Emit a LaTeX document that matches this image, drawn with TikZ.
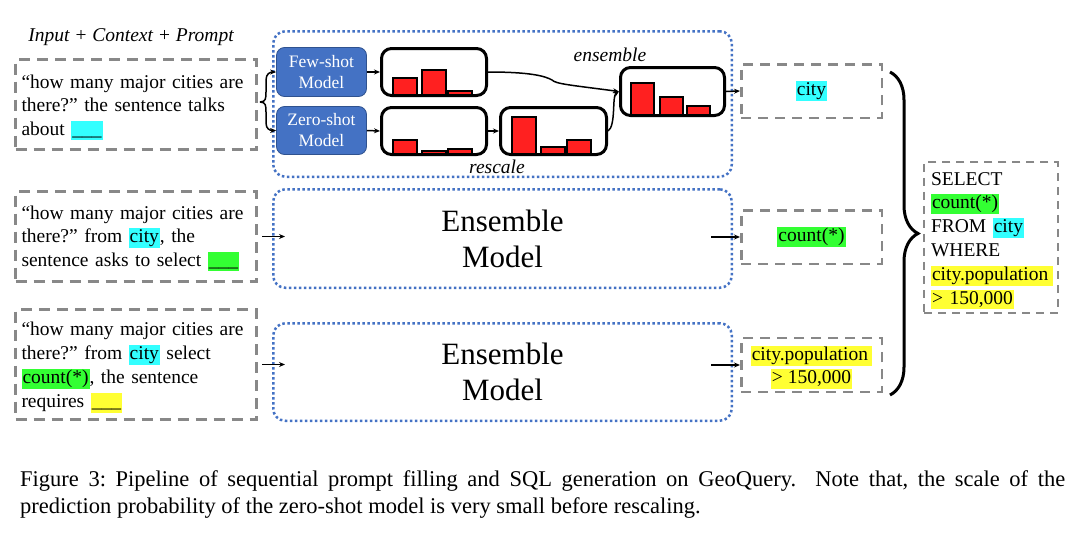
\documentclass[tikz,border=0pt]{standalone}
\usepackage{fontspec}
\setmainfont{Liberation Serif}
\usetikzlibrary{arrows.meta,decorations.pathreplacing,calc}
\frenchspacing
\definecolor{dgray}{RGB}{136,136,136}
\definecolor{dblue}{RGB}{68,114,196}
\definecolor{mblue}{RGB}{47,82,143}
\definecolor{hcyan}{RGB}{51,255,255}
\definecolor{hgreen}{RGB}{51,255,51}
\definecolor{hyellow}{RGB}{255,255,51}
\definecolor{barred}{RGB}{255,32,32}
\newcommand{\hlt}[2]{{\setlength{\fboxsep}{1pt}\colorbox{#1}{\vphantom{Ay(}#2}}}
\newcommand{\tstrut}{\rule{0pt}{19.5pt}}
\begin{document}
\begin{tikzpicture}[x=1pt,y=-1pt,
  txt/.style={font=\fontsize{19.5}{23.5}\selectfont},
  inbox/.style={txt, draw=dgray, line width=3pt, dash pattern=on 11pt off 7pt,
    minimum width=241pt, text width=229pt, inner xsep=6pt, align=left},
  ensbox/.style={draw=dblue, line width=2.5pt, dash pattern=on 2.5pt off 2.5pt,
    rounded corners=12pt, minimum width=458.5pt, align=center,
    font=\fontsize{31}{36}\selectfont},
  outbox/.style={txt, draw=dgray, line width=2.5pt, dash pattern=on 10pt off 7pt,
    minimum width=140.5pt, minimum height=53.5pt, align=center},
  model/.style={fill=dblue, draw=mblue, line width=0.8pt, rounded corners=8pt,
    text=white, minimum width=90pt, align=center,
    font=\fontsize{17.5}{21}\selectfont},
  hist/.style={draw=black, line width=3pt, rounded corners=10pt},
  bar/.style={fill=barred, draw=black, line width=1.3pt},
  arr/.style={-{Stealth[length=6pt,width=5pt]}, line width=1.5pt},
  lbl/.style={font=\fontsize{19.5}{22}\selectfont\itshape}
]
\useasboundingbox (0,0) rectangle (1086,533);

% title
\node[font=\fontsize{19.5}{22}\selectfont\itshape] (title) at (131,37) {Input + Context + Prompt};

% input boxes
\node[inbox, minimum height=90pt] (in1) at (136,104.5)
  {\tstrut“how many major cities are\\ there?” the sentence talks\\ about \hlt{hcyan}{\_\_\_}};
\node[inbox, minimum height=90pt] (in2) at (136,236.5)
  {\rule{0pt}{17.5pt}“how many major cities are\\ there?” from \hlt{hcyan}{city}, the\\ sentence asks to select \hlt{hgreen}{\_\_\_}};
\node[inbox, minimum height=110pt, font=\fontsize{19.5}{24}\selectfont] (in3) at (136,364.5)
  {\tstrut“how many major cities are\\ there?” from \hlt{hcyan}{city} select\\ \hlt{hgreen}{count(*)}, the sentence\\ requires \hlt{hyellow}{\_\_\_}};

% ensemble boxes
\node[ensbox, minimum height=145.5pt] (ens1) at (502.5,104) {};
\node[ensbox, minimum height=98.5pt] (ens2) at (502.5,238.5) {Ensemble\\Model};
\node[ensbox, minimum height=97.5pt] (ens3) at (502.5,372) {Ensemble\\Model};

% models
\node[model, minimum height=49pt] (few) at (321.5,72) {Few-shot\\Model};
\node[model, minimum height=48pt] (zero) at (321.5,130.5) {Zero-shot\\Model};

% bars
\draw[bar] (393,78) rectangle (417,95.5);
\draw[bar] (422,70) rectangle (446,95.5);
\draw[bar] (448,91) rectangle (472,95.5);
\draw[bar] (393,140) rectangle (417,154.5);
\draw[bar] (422,151) rectangle (446,154.5);
\draw[bar] (448,149) rectangle (472,154.5);
\draw[bar] (512,117) rectangle (536,154.5);
\draw[bar] (541,147) rectangle (565,154.5);
\draw[bar] (567,140) rectangle (591,154.5);
\draw[bar] (631,83) rectangle (654,115.5);
\draw[bar] (660,97) rectangle (683,115.5);
\draw[bar] (687,106) rectangle (710,115.5);

% histogram boxes
\node[hist, minimum width=105pt, minimum height=47pt] (h1) at (434,72) {};
\node[hist, minimum width=105pt, minimum height=47pt] (h2) at (434,131) {};
\node[hist, minimum width=106pt, minimum height=47pt] (h3) at (553.5,131) {};
\node[hist, minimum width=104pt, minimum height=48pt] (h4) at (672.5,91.5) {};

\node[lbl] (lens) at (610,55) {ensemble};
\node[lbl] (lres) at (497,167) {rescale};

% outputs
\node[outbox] (out1) at (811.5,91) {\hlt{hcyan}{city}};
\node[outbox] (out2) at (811.5,237) {\hlt{hgreen}{count(*)}};
\node[outbox, font=\fontsize{19.5}{22.5}\selectfont] (out3) at (811.5,365)
  {\tstrut\hlt{hyellow}{city.population\,}\\\hlt{hyellow}{> 150,000}};

% SQL box
\node[txt, draw=dgray, line width=2pt, dash pattern=on 8pt off 6pt,
  minimum width=134pt, minimum height=149pt, text width=120pt, inner xsep=7pt,
  align=left, font=\fontsize{19.5}{23.8}\selectfont] (sql) at (991,237.5)
  {\tstrut SELECT\\ \hlt{hgreen}{count(*)}\\ FROM \hlt{hcyan}{city}\\ WHERE\\ \hlt{hyellow}{city.population\,}\\ \hlt{hyellow}{> 150,000}};

% brace on the left + arrows
\coordinate (brtip) at (260,102);
\draw[arr] (brtip) .. controls (266,102) and (266,98) .. (266,92) -- (266,80)
  .. controls (266,74) and (270,72) .. (few.west);
\draw[arr] (brtip) .. controls (266,102) and (266,106) .. (266,112) -- (266,123)
  .. controls (266,129) and (270,130.5) .. (zero.west);

% arrows in first ensemble
\draw[arr] (few.east) -- (h1.west);
\draw[arr] (zero.east) -- (h2.west);
\draw[arr] (h2.east) -- (h3.west);
\draw[arr] (h1.east) .. controls (530,72) and (545,76) .. (552,80)
  .. controls (556,84) and (570,85) .. (h4.west);
\draw[arr] (h3.east) .. controls (616,126) and (612,96) .. (h4.west);
\draw[arr] (h4.east) -- (out1.west);

% arrows for the other rows
\draw[arr] ([xshift=4pt]in2.east) -- ([xshift=13pt]ens2.west |- in2.east);
\draw[arr] ([xshift=4pt]in3.east) -- ([xshift=13pt]ens3.west |- in3.east);
\draw[arr] ($(ens2.east |- out2.west)+(-22,0)$) -- (out2.west);
\draw[arr] ($(ens3.east |- out3.west)+(-22,0)$) -- (out3.west);

% right brace
\coordinate (rbt) at (890,72);
\coordinate (rbb) at (890,395);
\draw[line width=3pt, decorate, decoration={brace, amplitude=28pt}] (rbt) -- (rbb);

% caption
\node[anchor=north west, text width=1045pt, align=justify, inner sep=0pt,
  font=\fontsize{22.5}{27}\selectfont] (cap) at (20,470.5)
  {Figure 3: Pipeline of sequential prompt filling and SQL generation on GeoQuery.\ \ Note that, the scale of the\linebreak prediction probability of the zero-shot model is very small before rescaling.};
\end{tikzpicture}
\end{document}
